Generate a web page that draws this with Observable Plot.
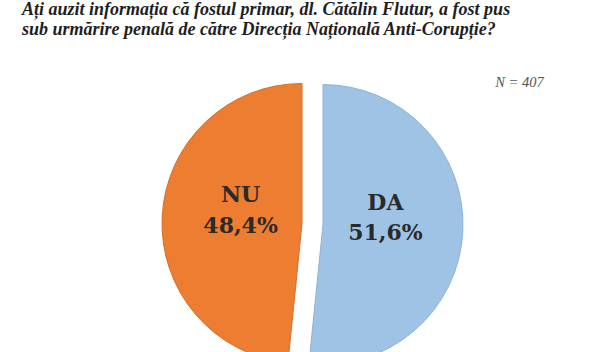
<!DOCTYPE html>
<html>
<head>
<meta charset="utf-8">
<script src="https://cdn.jsdelivr.net/npm/d3@7"></script>
<script src="https://cdn.jsdelivr.net/npm/@observablehq/plot@0.6"></script>
<style>
  html, body { margin: 0; padding: 0; background: #fff; overflow: hidden; width: 600px; height: 352px; }
  #title {
    font-family: "Liberation Serif", serif;
    font-weight: bold; font-style: italic;
    font-size: 18px; line-height: 20px; color: #1e1e1e;
    padding-left: 22px; height: 40px; white-space: nowrap;
    margin-top: -1px; margin-bottom: 1px;
  }
  #chart svg { display: block; }
</style>
</head>
<body>
<div id="title"></div>
<div id="chart"></div>
<script>
// ---- data ----
const titleLines = [
  "Ați auzit informația că fostul primar, dl. Cătălin Flutur, a fost pus",
  "sub urmărire penală de către Direcția Națională Anti-Corupție?"
];
const categories = ["DA", "NU"];
const values = [51.6, 48.4];
const colors = ["#9FC3E5", "#ED7D31"];
const strokes = ["#8FB2D4", "#D5702C"];
const sampleNote = ["N = 407"];

// ---- layout ----
const W = 600, H = 312;
const CX = 312.5, CY = 184, R = 140, EXPLODE = 10.5, LABEL_R = 62;

document.getElementById("title").innerHTML = titleLines.join("<br>");

const rows = categories.map((c, i) => ({label: c, value: values[i], fill: colors[i], stroke: strokes[i]}));
const arcs = d3.pie().sort(null).value(d => d.value)(rows);
arcs.forEach(a => {
  const mid = (a.startAngle + a.endAngle) / 2;
  a.ox = EXPLODE * Math.sin(mid);
  a.oy = -EXPLODE * Math.cos(mid);
  a.lx = CX + a.ox + LABEL_R * Math.sin(mid);
  a.ly = CY + a.oy - LABEL_R * Math.cos(mid);
  a.text = `${a.data.label}\n${a.data.value.toFixed(1).replace(".", ",")}%`;
});

const arcGen = d3.arc().innerRadius(0).outerRadius(R);

function pieMark(index, scales) {
  const g = d3.create("svg:g");
  const x0 = scales.x(CX), y0 = scales.y(CY);
  g.selectAll("path")
    .data(arcs)
    .join("path")
      .attr("transform", a => `translate(${x0 + a.ox},${y0 + a.oy})`)
      .attr("d", arcGen)
      .attr("fill", a => a.data.fill)
      .attr("stroke", a => a.data.stroke)
      .attr("stroke-width", 1);
  return g.node();
}

const plot = Plot.plot({
  width: W,
  height: H,
  margin: 0,
  x: {domain: [0, W], axis: null},
  y: {domain: [0, H], reverse: true, axis: null},
  marks: [
    pieMark,
    Plot.text(arcs, {
      x: "lx", y: "ly", text: "text", dy: -13,
      fontFamily: "DejaVu Serif", fontWeight: "bold", fontSize: 22,
      lineHeight: 1.4, fill: "#2a2a2a"
    }),
    Plot.text(sampleNote, {
      x: [519], y: [42], text: d => d,
      fontFamily: "Liberation Serif", fontStyle: "italic", fontSize: 14.5,
      fill: "#555"
    })
  ]
});
document.getElementById("chart").append(plot);
</script>
</body>
</html>
